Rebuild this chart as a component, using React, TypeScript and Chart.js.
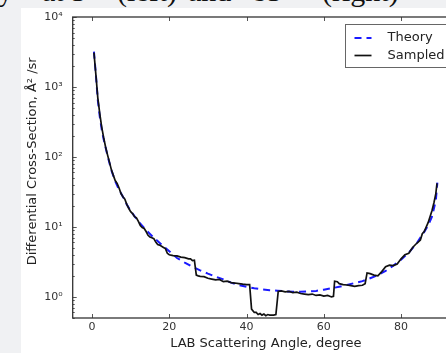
import React, { useEffect, useRef } from 'react';
import { Chart, registerables } from 'chart.js';

Chart.register(...registerables);

// ---- data ----
const theoryAngles = [0.5, 1, 1.5, 2, 2.5, 3, 4, 5, 6, 7, 8, 9, 10, 12, 14, 16, 18, 20, 22, 24, 26, 28, 30, 32, 34, 36, 38, 40, 42, 44, 46, 48, 50, 52, 54, 56, 58, 60, 62, 64, 66, 68, 70, 72, 74, 76, 78, 80, 82, 84, 86, 87, 88, 89, 89.4];
const theoryValues = [3200, 1500, 650, 380, 250, 180, 105, 65, 45, 34, 27, 21, 17, 12, 9, 7, 5.6, 4.5, 3.6, 3.1, 2.7, 2.4, 2.15, 1.95, 1.78, 1.6, 1.48, 1.4, 1.33, 1.28, 1.25, 1.23, 1.2, 1.19, 1.19, 1.2, 1.22, 1.27, 1.33, 1.4, 1.48, 1.58, 1.68, 1.85, 2.05, 2.35, 2.8, 3.4, 4.3, 5.8, 8.5, 10.5, 14, 24, 43];

const sampledAngles = [0.5, 1, 1.5, 2, 2.5, 3, 3.5, 4, 4.5, 5, 5.5, 6, 6.5, 7, 7.5, 8, 8.5, 9, 9.5, 10, 10.5, 11, 11.5, 12, 12.5, 13, 13.5, 14, 14.5, 15, 15.5, 16, 16.5, 17, 17.5, 18, 18.5, 19, 19.5, 20, 21, 22, 23, 24, 25, 25.5, 26, 26.5, 27, 27.5, 28, 29, 30, 31, 32, 33, 34, 35, 36, 37, 38, 39, 40, 40.8, 41.3, 42, 42.5, 43, 43.5, 44, 44.5, 45, 45.5, 46, 46.5, 47, 47.6, 48.2, 49, 50, 51, 52, 53, 54, 55, 56, 57, 58, 59, 60, 61, 62, 62.5, 62.8, 63.5, 64, 65, 66, 67, 68, 69, 70, 70.7, 71.2, 72, 73, 74, 75, 76, 77, 78, 79, 80, 81, 82, 83, 84, 85, 85.5, 86, 87, 87.5, 88, 88.5, 89, 89.3];
const sampledValues = [3100, 1500, 700, 420, 270, 190, 140, 108, 85, 66, 55, 46, 42, 36, 30, 27, 25, 21, 18.5, 16.5, 15.5, 14, 13.5, 12, 10.5, 9.8, 9.5, 8.6, 7.6, 7.2, 7.0, 6.8, 6.1, 5.6, 5.5, 5.3, 5.1, 4.9, 4.2, 4.0, 3.9, 3.85, 3.7, 3.65, 3.5, 3.5, 3.3, 3.35, 2.05, 2.0, 1.97, 1.95, 1.85, 1.8, 1.75, 1.78, 1.65, 1.68, 1.6, 1.58, 1.55, 1.52, 1.5, 1.5, 0.67, 0.6, 0.6, 0.56, 0.58, 0.55, 0.57, 0.54, 0.56, 0.55, 0.55, 0.55, 0.56, 1.2, 1.22, 1.18, 1.2, 1.15, 1.17, 1.12, 1.1, 1.08, 1.1, 1.05, 1.07, 1.03, 1.05, 1.0, 1.02, 1.68, 1.65, 1.55, 1.5, 1.48, 1.45, 1.42, 1.45, 1.47, 1.55, 2.2, 2.15, 2.05, 2.0, 2.3, 2.7, 2.85, 2.8, 2.95, 3.5, 4.0, 4.2, 5.1, 5.8, 6.5, 8.0, 8.6, 11.5, 14, 17, 22, 30, 42];

const xTicks = [0, 20, 40, 60, 80];
const yTicks = [1, 10, 100, 1000, 10000];
const yTickLabels = ['10\u2070', '10\u00b9', '10\u00b2', '10\u00b3', '10\u2074'];
const seriesLabels = ['Theory', 'Sampled'];
const xTitle = 'LAB Scattering Angle, degree';
const yTitle = 'Differential Cross-Section, \u00c5\u00b2 /sr';
const captionWords = ['y', 'at 5\u00b0', '(left)', 'and', '85\u00b0', '(right)'];

const W = 480;
const H = 353;
const FONT = "'DejaVu Sans', sans-serif";
const captionX = [-2, 42, 117, 188, 252, 322];

const framePlugin = {
  id: 'frameTicksLegend',
  afterDatasetsDraw(chart: any) {
    const { ctx, chartArea, scales } = chart;
    const { left, top, right, bottom } = chartArea;
    const xs = scales.x;
    const ys = scales.y;
    ctx.save();
    ctx.strokeStyle = '#555';
    ctx.lineWidth = 1;
    ctx.beginPath();
    xTicks.forEach((v) => {
      const px = Math.round(xs.getPixelForValue(v)) + 0.5;
      ctx.moveTo(px, bottom); ctx.lineTo(px, bottom - 4);
      ctx.moveTo(px, top); ctx.lineTo(px, top + 4);
    });
    yTicks.forEach((v) => {
      const py = Math.round(ys.getPixelForValue(v)) + 0.5;
      ctx.moveTo(left, py); ctx.lineTo(left + 4, py);
      ctx.moveTo(right, py); ctx.lineTo(right - 4, py);
    });
    for (let d = -1; d < 4; d++) {
      for (let k = 2; k <= 9; k++) {
        const v = k * Math.pow(10, d);
        if (v < ys.min || v > ys.max) continue;
        const py = Math.round(ys.getPixelForValue(v)) + 0.5;
        ctx.moveTo(left, py); ctx.lineTo(left + 2, py);
        ctx.moveTo(right, py); ctx.lineTo(right - 2, py);
      }
    }
    ctx.stroke();
    ctx.strokeStyle = '#333';
    ctx.lineWidth = 1.3;
    ctx.strokeRect(left, top, right - left, bottom - top);

    // legend
    const bx = Math.round(right - 114) + 0.5;
    const by = Math.round(top + 7) + 0.5;
    ctx.fillStyle = '#fff';
    ctx.fillRect(bx, by, 110, 43);
    ctx.strokeStyle = '#666';
    ctx.lineWidth = 1;
    ctx.strokeRect(bx, by, 110, 43);
    const ds = chart.data.datasets;
    const rows = [by + 13.5, by + 31];
    seriesLabels.forEach((lab, i) => {
      const d = ds.find((q: any) => q.label === lab);
      ctx.strokeStyle = d.borderColor;
      ctx.lineWidth = d.borderWidth;
      ctx.setLineDash(d.borderDash || []);
      ctx.beginPath();
      ctx.moveTo(bx + 9, rows[i]);
      ctx.lineTo(bx + 26, rows[i]);
      ctx.stroke();
      ctx.setLineDash([]);
      ctx.fillStyle = '#222';
      ctx.font = `13px ${FONT}`;
      ctx.textBaseline = 'middle';
      ctx.textAlign = 'left';
      ctx.fillText(lab, bx + 42, rows[i]);
    });
    ctx.restore();
  },
};

export default function App() {
  const ref = useRef<HTMLCanvasElement | null>(null);
  useEffect(() => {
    if (!ref.current) return;
    const chart = new Chart(ref.current, {
      type: 'line',
      data: {
        datasets: [
          {
            label: seriesLabels[0],
            data: theoryAngles.map((a, i) => ({ x: a, y: theoryValues[i] })),
            borderColor: '#1a1aff',
            borderWidth: 2,
            borderDash: [7, 5],
            pointRadius: 0,
            tension: 0,
            order: 1,
          },
          {
            label: seriesLabels[1],
            data: sampledAngles.map((a, i) => ({ x: a, y: sampledValues[i] })),
            borderColor: '#111',
            borderWidth: 1.7,
            pointRadius: 0,
            tension: 0,
            order: 0,
          },
        ],
      },
      options: {
        animation: false,
        responsive: false,
        devicePixelRatio: 1,
        layout: { padding: { left: 0, top: 17, right: W - 459, bottom: 0 } },
        plugins: { legend: { display: false }, tooltip: { enabled: false } },
        scales: {
          x: {
            type: 'linear',
            min: -5,
            max: 95,
            grid: { display: false, drawTicks: false },
            border: { display: false },
            afterBuildTicks: (s: any) => { s.ticks = xTicks.map((v) => ({ value: v })); },
            afterFit: (s: any) => { s.height = 35; },
            ticks: {
              color: '#333',
              font: { family: FONT, size: 11 },
              padding: 3,
              maxRotation: 0,
              callback: (v: any) => String(v),
            },
            title: {
              display: true,
              text: xTitle,
              color: '#222',
              font: { family: FONT, size: 13 },
              padding: { top: 0, bottom: 2 },
            },
          },
          y: {
            type: 'logarithmic',
            min: 0.5,
            max: 10000,
            grid: { display: false, drawTicks: false },
            border: { display: false },
            afterBuildTicks: (s: any) => { s.ticks = yTicks.map((v) => ({ value: v })); },
            afterFit: (s: any) => { s.width = 72.7; },
            ticks: {
              color: '#333',
              font: { family: FONT, size: 11 },
              padding: 10,
              callback: (v: any) => yTickLabels[yTicks.indexOf(Number(v))] ?? '',
            },
            title: {
              display: true,
              text: '   ' + yTitle,
              color: '#222',
              font: { family: FONT, size: 13 },
              padding: { top: 25, bottom: 0 },
            },
          },
        },
      },
      plugins: [framePlugin],
    } as any);
    return () => chart.destroy();
  }, []);

  return (
    <div style={{ position: 'fixed', left: 0, top: 0, width: 446, height: 353, overflow: 'hidden', background: '#fff' }}>
      <div style={{ position: 'absolute', left: 0, top: 0, width: 446, height: 8, background: '#f0f1f3' }} />
      <div style={{ position: 'absolute', left: 0, top: 0, width: 21, height: 353, background: '#f0f1f3' }} />
      {captionWords.map((w, i) => (
        <div
          key={i}
          style={{
            position: 'absolute', left: captionX[i], top: -24, whiteSpace: 'pre',
            fontFamily: "'Liberation Serif', serif", fontSize: 30, lineHeight: '30px', color: '#111',
          }}
        >
          {w}
        </div>
      ))}
      <canvas ref={ref} width={W} height={H} style={{ position: 'absolute', left: 0, top: 0, width: W, height: H }} />
    </div>
  );
}
